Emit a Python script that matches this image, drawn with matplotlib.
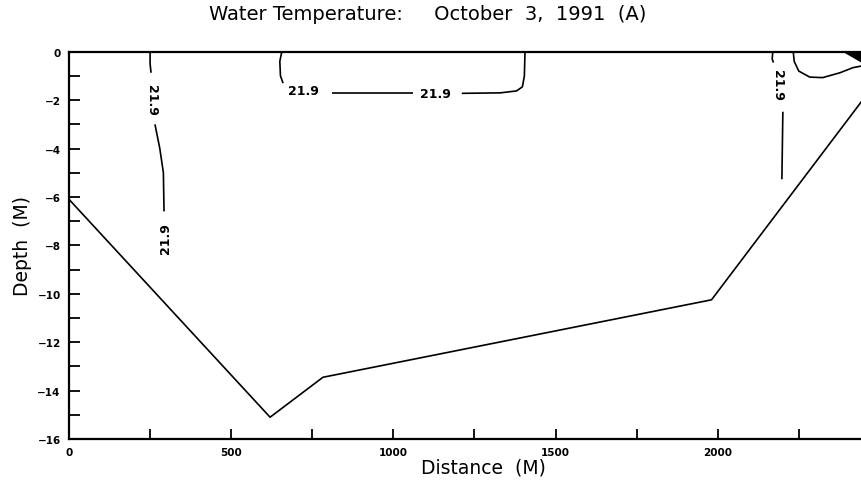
import matplotlib
matplotlib.use("Agg")
import matplotlib.pyplot as plt
import numpy as np

# Bottom profile (distance along transect, depth)
bottom_dist = [0, 620, 783, 1981, 2444]
bottom_depth = [-6.1, -15.1, -13.45, -10.25, -2.05]

# 21.9 isotherm pieces (distance, depth)
iso_left_a_dist = [250, 250, 253]
iso_left_a_depth = [0, -0.5, -0.87]
iso_left_b_dist = [265, 280, 291, 293]
iso_left_b_depth = [-3.0, -4.0, -5.0, -6.6]

iso_mid_a_dist = [656, 650, 652, 660]
iso_mid_a_depth = [0, -0.4, -1.0, -1.3]
iso_mid_b_dist = [810, 1060]
iso_mid_b_depth = [-1.72, -1.72]
iso_mid_c_dist = [1211, 1330, 1380, 1398, 1404, 1406]
iso_mid_c_depth = [-1.72, -1.70, -1.62, -1.45, -1.0, 0]

iso_right_a_dist = [2170, 2168, 2172]
iso_right_a_depth = [0, -0.3, -0.45]
iso_right_b_dist = [2201, 2198]
iso_right_b_depth = [-2.48, -5.27]

# Small closed isotherm near the right bank
loop_dist = [2233, 2236, 2250, 2284, 2324, 2377, 2417, 2444]
loop_depth = [0, -0.4, -0.8, -1.05, -1.07, -0.87, -0.66, -0.59]

# Tightly packed isotherms at the shoreline
wedge_dist = [2386, 2444, 2444]
wedge_depth = [0, 0, -0.45]

# Contour labels: text, distance, depth, rotation
iso_label_text = ["21.9", "21.9", "21.9", "21.9", "21.9"]
iso_label_dist = [255, 299, 724, 1131, 2183]
iso_label_depth = [-1.99, -7.67, -1.60, -1.74, -1.37]
iso_label_rot = [-90, 90, 0, 0, -90]

x_major = [0, 500, 1000, 1500, 2000]
x_minor = [250, 750, 1250, 1750, 2250]
y_major = list(range(0, -17, -2))
y_minor = list(range(-1, -16, -2))

W, H = 862, 485
fig = plt.figure(figsize=(W / 100, H / 100), dpi=100)
ax = fig.add_axes([69 / W, 1 - 440 / H, (W - 69) / W, (440 - 52.7) / H])
ax.set_xlim(0, 2445)
ax.set_ylim(-16, 0)

lw = 1.2
kw = dict(color="black", lw=lw, solid_capstyle="butt")
ax.plot(bottom_dist, bottom_depth, **kw)
for xs, ys in [(iso_left_a_dist, iso_left_a_depth), (iso_left_b_dist, iso_left_b_depth),
               (iso_mid_a_dist, iso_mid_a_depth), (iso_mid_b_dist, iso_mid_b_depth),
               (iso_mid_c_dist, iso_mid_c_depth), (iso_right_a_dist, iso_right_a_depth),
               (iso_right_b_dist, iso_right_b_depth), (loop_dist, loop_depth)]:
    ax.plot(xs, ys, **kw)
ax.fill(wedge_dist, wedge_depth, color="black", lw=0)

for t, x, y, r in zip(iso_label_text, iso_label_dist, iso_label_depth, iso_label_rot):
    ax.text(x, y, t, rotation=r, ha="center", va="center", fontsize=9,
            fontweight="bold", family="DejaVu Sans")

for side in ["left", "bottom", "top"]:
    ax.spines[side].set_linewidth(1.6)
ax.spines["right"].set_visible(False)

ax.set_xticks(x_major)
ax.set_xticklabels([str(v) for v in x_major], fontsize=7.5, fontweight="bold",
                   family="DejaVu Sans")
ax.set_xticks(x_minor, minor=True)
ax.set_yticks(y_major)
ax.set_yticklabels([f"\u2212{abs(v)}" if v else "0" for v in y_major], fontsize=7.5,
                   fontweight="bold", family="DejaVu Sans")
ax.set_yticks(y_minor, minor=True)
ax.tick_params(axis="both", which="both", direction="in", width=1.3, color="black")
ax.tick_params(axis="x", which="both", length=7, pad=6)
ax.tick_params(axis="y", which="both", length=8, pad=6)
ax.tick_params(top=False, right=False)

ax.set_xlabel("Distance  (M)", fontsize=13.5)
ax.xaxis.set_label_coords((483 - 69) / (W - 69), -(468 - 440) / (440 - 52.7))
ax.xaxis.label.set_va("center")
ax.set_ylabel("Depth  (M)", fontsize=13.5, labelpad=4)
fig.text(428 / W, 1 - 15 / H, "Water Temperature:     October  3,  1991  (A)",
         ha="center", va="center", fontsize=14)

fig.savefig("out.png", dpi=100)
